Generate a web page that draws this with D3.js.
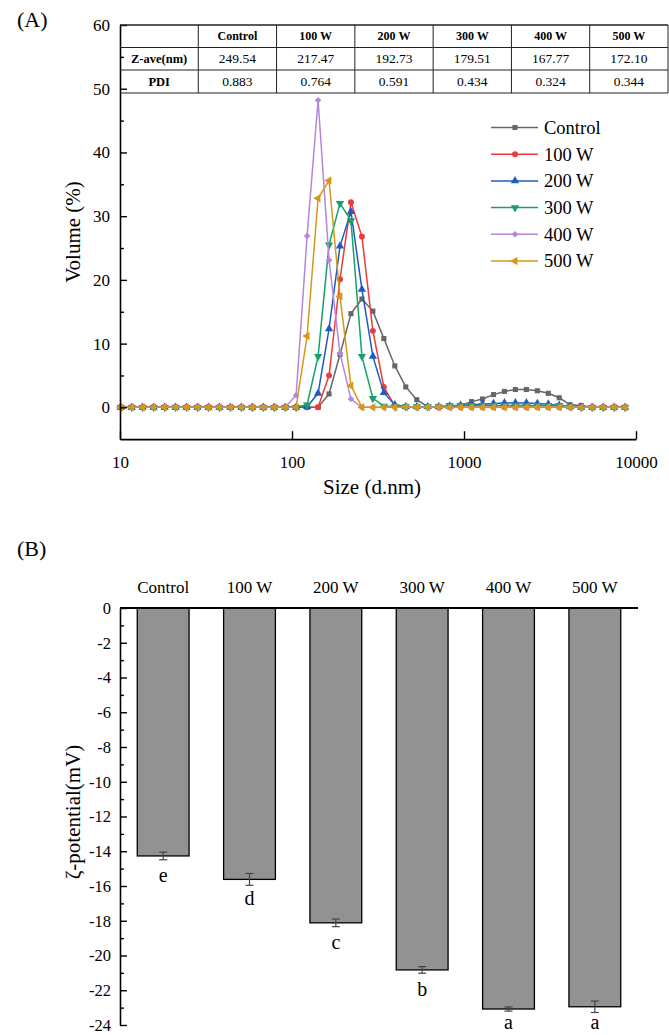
<!DOCTYPE html>
<html><head><meta charset="utf-8">
<script src="https://cdn.jsdelivr.net/npm/d3@7"></script>
<style>
body{margin:0;background:#fff}
svg{display:block}
text{font-family:"Liberation Serif","Times New Roman",serif;fill:#000}
</style>
</head><body>
<svg id="c" width="669" height="1035"></svg>
<script>
// ---------- Panel A data ----------
const sizes = [10.10,11.70,13.54,15.69,18.17,21.04,24.36,28.21,32.67,37.84,43.82,50.75,58.77,68.06,78.82,91.28,105.7,122.4,141.8,164.2,190.1,220.2,255.0,295.3,342.0,396.1,458.7,531.2,615.1,712.4,825.0,955.4,1106,1281,1484,1718,1990,2305,2669,3091,3580,4145,4801,5560,6439,7456,8635];
const seriesNames = ["Control","100 W","200 W","300 W","400 W","500 W"];
const volControl = [0,0,0,0,0,0,0,0,0,0, 0,0,0,0,0,0,0,0,0,2.1, 8.3,14.7,17.0,15.1,10.8,6.5,3.2,1.2,0.1,0, 0.1,0.3,0.9,1.3,2.0,2.5,2.8,2.8,2.6,2.2, 1.5,0.4,0.3,0,0,0,0];
const vol100 = [0,0,0,0,0,0,0,0,0,0, 0,0,0,0,0,0,0,0,0,5.0, 20.1,32.2,26.8,12.0,3.2,0.2,0,0,0,0, 0,0,0,0,0,0,0,0,0,0, 0,0,0,0,0,0,0];
const vol200 = [0,0,0,0,0,0,0,0,0,0, 0,0,0,0,0,0,0,0.1,2.2,12.3, 25.3,30.7,18.5,8.0,2.3,0.4,0.1,0.1,0.1,0.1, 0.2,0.3,0.4,0.5,0.6,0.7,0.7,0.7,0.6,0.5, 0.3,0.1,0,0,0,0,0];
const vol300 = [0,0,0,0,0,0,0,0,0,0, 0,0,0,0,0,0,0,0.4,8.0,25.5, 32.0,29.3,8.0,1.4,0.2,0.1,0.1,0.1,0.1,0.1, 0.3,0.3,0.3,0.3,0.3,0.3,0.3,0.3,0.3,0.3, 0.3,0.1,0,0,0,0,0];
const vol400 = [0,0,0,0,0,0,0,0,0,0, 0,0,0,0,0,0,1.9,26.9,48.2,23.1, 8.5,1.3,0,0,0,0,0,0,0,0, 0,0,0,0,0,0,0,0,0,0, 0,0,0,0,0,0,0];
const vol500 = [0,0,0,0,0,0,0,0,0,0, 0,0,0,0,0,0,0,11.2,32.8,35.6, 17.4,3.4,0,0,0,0,0,0,0,0, 0,0,0,0,0,0,0,0,0,0, 0,0,0,0,0,0,0];
const seriesColors = ["#666666","#ec3b3b","#1f5cc2","#17a06a","#b487dc","#d6981a"];
const volTicks = [0,10,20,30,40,50,60];
const volMinorTicks = [5,15,25,35,45,55];
const sizeTicks = [10,100,1000,10000];

// table
const tableHeader = ["","Control","100 W","200 W","300 W","400 W","500 W"];
const tableRowLabels = ["Z-ave(nm)","PDI"];
const zAve = ["249.54","217.47","192.73","179.51","167.77","172.10"];
const pdi = ["0.883","0.764","0.591","0.434","0.324","0.344"];

// ---------- Panel B data ----------
const zetaCategories = ["Control","100 W","200 W","300 W","400 W","500 W"];
const zetaValues = [-14.27,-15.62,-18.12,-20.83,-23.08,-22.95];
const zetaErrors = [0.22,0.34,0.22,0.19,0.12,0.33];
const zetaLetters = ["e","d","c","b","a","a"];
const zetaTicks = [0,-2,-4,-6,-8,-10,-12,-14,-16,-18,-20,-22,-24];
const zetaMinorTicks = [-1,-3,-5,-7,-9,-11,-13,-15,-17,-19,-21,-23];

const svg = d3.select("#c");
const FONT = '"Liberation Serif","Times New Roman",serif';

// ================= Panel A =================
const xA = d3.scaleLog().domain([10,10000]).range([120,636]);
const yA = d3.scaleLinear().domain([-5,60]).range([439.2,25]);

svg.append("text").attr("x",17).attr("y",27).attr("font-size",22).text("(A)");

const gA = svg.append("g");

// series
const allSeries = [volControl,vol100,vol200,vol300,vol400,vol500];
const symbols = [
  {t:d3.symbolSquare,s:26,r:0},
  {t:d3.symbolCircle,s:28,r:0},
  {t:d3.symbolTriangle,s:30,r:0},
  {t:d3.symbolTriangle,s:30,r:180},
  {t:d3.symbolSquare,s:22,r:45},
  {t:d3.symbolTriangle,s:30,r:-90}
];
const line = d3.line().x(d=>xA(d[0])).y(d=>yA(d[1]));
allSeries.forEach((vals,i)=>{
  const pts = sizes.map((s,j)=>[s,vals[j]]);
  const g = gA.append("g");
  g.append("path").datum(pts).attr("d",line).attr("fill","none")
    .attr("stroke",seriesColors[i]).attr("stroke-width",1.5);
  g.selectAll("path.m").data(pts).enter().append("path").attr("class","m")
    .attr("d",d3.symbol().type(symbols[i].t).size(symbols[i].s))
    .attr("transform",d=>`translate(${xA(d[0])},${yA(d[1])}) rotate(${symbols[i].r})`)
    .attr("fill",seriesColors[i]);
});

// axes
const yAxisA = d3.axisLeft(yA).tickValues(volTicks).tickSize(-7).tickSizeOuter(0).tickPadding(10);
const gy = gA.append("g").attr("transform","translate(120,0)").call(yAxisA);
gy.select(".domain").attr("stroke-width",1.6);
gy.selectAll(".tick line").attr("stroke-width",1.4);
gy.selectAll("text").attr("font-size",17).attr("font-family",FONT);
const gyMinor = gA.append("g").attr("transform","translate(120,0)")
  .call(d3.axisLeft(yA).tickValues(volMinorTicks).tickSize(-4).tickFormat(""));
gyMinor.select(".domain").remove();
gyMinor.selectAll(".tick line").attr("stroke-width",1.4);

const xAxisA = d3.axisBottom(xA).tickValues(sizeTicks).tickSize(-8).tickSizeOuter(0).tickPadding(17).tickFormat(d3.format("d"));
const gx = gA.append("g").attr("transform",`translate(0,${yA(-5)})`).call(xAxisA);
gx.select(".domain").attr("stroke-width",1.8);
gx.selectAll(".tick line").attr("stroke-width",1.4);
gx.selectAll("text").attr("font-size",17).attr("font-family",FONT);

gA.append("text").attr("x",372).attr("y",494).attr("text-anchor","middle")
  .attr("font-size",21).text("Size (d.nm)");
gA.append("text").attr("transform","translate(80,232) rotate(-90)").attr("text-anchor","middle")
  .attr("font-size",21).text("Volume (%)");

// legend
const leg = gA.append("g");
seriesNames.forEach((n,i)=>{
  const yy = 127.5 + i*26.7;
  leg.append("line").attr("x1",491).attr("x2",538).attr("y1",yy).attr("y2",yy)
    .attr("stroke",seriesColors[i]).attr("stroke-width",1.5);
  leg.append("path").attr("d",d3.symbol().type(symbols[i].t).size(symbols[i].s))
    .attr("transform",`translate(515,${yy}) rotate(${symbols[i].r})`).attr("fill",seriesColors[i]);
  leg.append("text").attr("x",544).attr("y",yy).attr("dy","0.35em").attr("font-size",18.5).text(n);
});

// table
const tX0 = 120, tX1 = 668, nCols = tableHeader.length;
const colW = (tX1 - tX0)/nCols;
const rowY = [25,47.5,70,93];
const tg = gA.append("g");
rowY.forEach(yv=>tg.append("line").attr("x1",tX0).attr("x2",tX1).attr("y1",yv).attr("y2",yv)
  .attr("stroke","#222").attr("stroke-width", yv===25?1.6:1));
for(let c=1;c<=nCols;c++){
  tg.append("line").attr("x1",tX0+c*colW).attr("x2",tX0+c*colW).attr("y1",25).attr("y2",93)
    .attr("stroke","#222").attr("stroke-width",1);
}
const cellX = c => tX0 + (c+0.5)*colW;
tableHeader.forEach((h,c)=>{
  tg.append("text").attr("x",cellX(c)).attr("y",(rowY[0]+rowY[1])/2).attr("dy","0.35em")
    .attr("text-anchor","middle").attr("font-size",12).attr("font-weight","bold").text(h);
});
[zAve,pdi].forEach((row,r)=>{
  const yc = (rowY[r+1]+rowY[r+2])/2;
  tg.append("text").attr("x",cellX(0)).attr("y",yc).attr("dy","0.35em")
    .attr("text-anchor","middle").attr("font-size",12.5).attr("font-weight","bold").text(tableRowLabels[r]);
  row.forEach((v,c)=>{
    tg.append("text").attr("x",cellX(c+1)).attr("y",yc).attr("dy","0.35em")
      .attr("text-anchor","middle").attr("font-size",13.5).text(v);
  });
});

// ================= Panel B =================
svg.append("text").attr("x",17).attr("y",556).attr("font-size",22).text("(B)");

const xB = d3.scaleBand().domain(zetaCategories).range([120,638]).paddingInner(0.4).paddingOuter(0.2);
const yB = d3.scaleLinear().domain([-24,0]).range([1025,608]);
const gB = svg.append("g");

gB.selectAll("rect.bar").data(zetaValues).enter().append("rect").attr("class","bar")
  .attr("x",(d,i)=>xB(zetaCategories[i])).attr("width",xB.bandwidth())
  .attr("y",yB(0)).attr("height",d=>yB(d)-yB(0))
  .attr("fill","#929292").attr("stroke","#000").attr("stroke-width",1.3);

// error bars, letters, category labels
zetaValues.forEach((v,i)=>{
  const cx = xB(zetaCategories[i]) + xB.bandwidth()/2;
  const e = zetaErrors[i];
  const g = gB.append("g").attr("stroke","#444").attr("stroke-width",1.2);
  g.append("line").attr("x1",cx).attr("x2",cx).attr("y1",yB(v+e)).attr("y2",yB(v-e));
  g.append("line").attr("x1",cx-4).attr("x2",cx+4).attr("y1",yB(v+e)).attr("y2",yB(v+e));
  g.append("line").attr("x1",cx-4).attr("x2",cx+4).attr("y1",yB(v-e)).attr("y2",yB(v-e));
  gB.append("text").attr("x",cx).attr("y",Math.min(yB(v)+26,1029)).attr("text-anchor","middle")
    .attr("font-size",20).text(zetaLetters[i]);
  gB.append("text").attr("x",cx).attr("y",593).attr("text-anchor","middle")
    .attr("font-size",17).text(zetaCategories[i]);
});

// axes
const yAxisB = d3.axisLeft(yB).tickValues(zetaTicks).tickSize(-7).tickSizeOuter(0).tickPadding(9).tickFormat(d3.format("d"));
const gyB = gB.append("g").attr("transform","translate(120,0)").call(yAxisB);
gyB.select(".domain").attr("stroke-width",1.6);
gyB.selectAll(".tick line").attr("stroke-width",1.4);
gyB.selectAll("text").attr("font-size",16.5).attr("font-family",FONT).text(d=>d===0?"0":"-"+Math.abs(d));
const gyBm = gB.append("g").attr("transform","translate(120,0)")
  .call(d3.axisLeft(yB).tickValues(zetaMinorTicks).tickSize(-4).tickFormat(""));
gyBm.select(".domain").remove();
gyBm.selectAll(".tick line").attr("stroke-width",1.4);

gB.append("line").attr("x1",120).attr("x2",638).attr("y1",yB(0)).attr("y2",yB(0))
  .attr("stroke","#000").attr("stroke-width",1.8);

gB.append("text").attr("transform","translate(80,812) rotate(-90)").attr("text-anchor","middle")
  .attr("font-size",21).text("ζ-potential(mV)");
</script>
</body></html>
